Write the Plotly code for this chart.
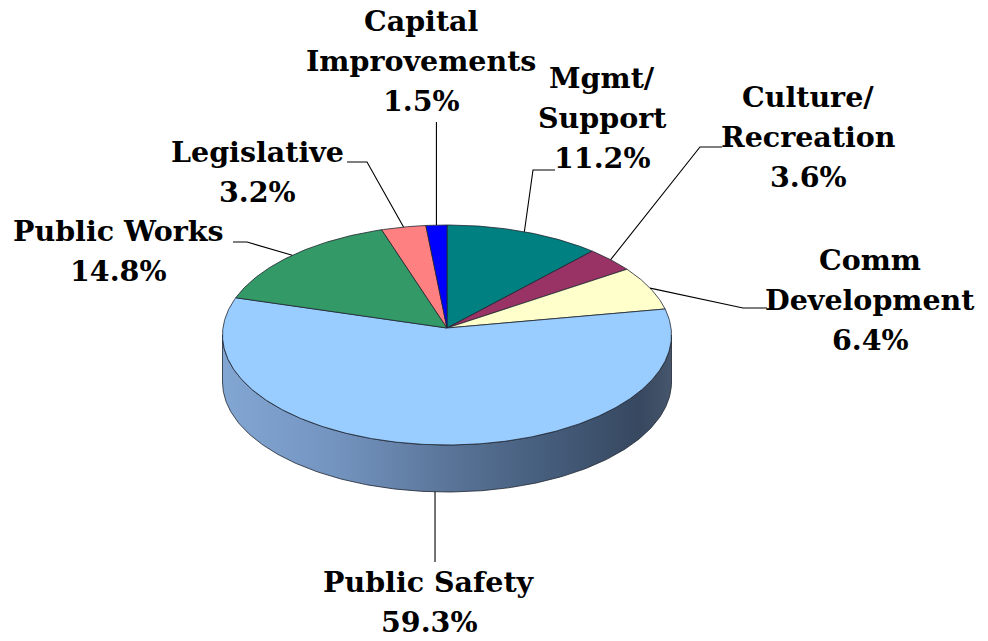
import numpy as np
import plotly.graph_objects as go

# ---- data (clockwise from 12 o'clock) ----
categories = ["Mgmt/<br>Support", "Culture/<br>Recreation", "Comm<br>Development",
              "Public Safety", "Public Works", "Legislative", "Capital<br>Improvements"]
shares = [11.2, 3.6, 6.4, 59.3, 14.8, 3.2, 1.5]
colors = ["#008080", "#993366", "#FFFFCC", "#99CCFF", "#339966", "#FF8080", "#0000FF"]

# ---- geometry / style ----
W, H = 988, 641
cx, cy, a, b = 447.0, 335.0, 224.5, 110.0
apex_dy = -7.0
depth = 47.0
edge = "#1e2430"
FONT = "DejaVu Serif"
FS = 28.5
LINE_SP = 40

# label placement: (center x, first line y), elbow points (None x -> use anchor x)
label_pos = [(602, 78), (808, 97), (870, 260), (429, 582), (118, 231), (257, 152), (421, 21)]
elbows = [[(555, 170), (533, 170)], [(722, 147), (700, 147)], [(767, 308), (743, 308)],
          [(None, 562)], [(233, 242), (247, 242)], [(347, 162), (367, 162)], [(None, 122)]]

def pt(theta_deg):
    t = np.radians(theta_deg)
    return cx + a * np.sin(t), cy - b * np.cos(t)

fig = go.Figure()

total = sum(shares)
bounds = np.concatenate([[0], np.cumsum(shares)]) / total * 360.0

# side walls (front half only: 90..270 deg)
for i, (t1, t2) in enumerate(zip(bounds[:-1], bounds[1:])):
    s1, s2 = max(t1, 90.0), min(t2, 270.0)
    if s2 <= s1:
        continue
    th = np.linspace(s1, s2, 200)
    xs, ys = pt(th)
    px = np.concatenate([xs, xs[::-1], xs[:1]])
    py = np.concatenate([ys, ys[::-1] + depth, ys[:1]])
    fig.add_trace(go.Scatter(
        x=px, y=py, mode="lines", fill="toself",
        line=dict(color=edge, width=0.8),
        fillgradient=dict(type="horizontal",
                          colorscale=[[0, "#82a6d2"], [0.25, "#7494c0"], [0.5, "#5a7599"],
                                      [0.75, "#435a78"], [0.93, "#374860"], [1, "#46566c"]]),
        hoverinfo="skip", showlegend=False))

# top faces
for i, (t1, t2) in enumerate(zip(bounds[:-1], bounds[1:])):
    n = max(int((t2 - t1) * 2), 4)
    th = np.linspace(t1, t2, n)
    xs, ys = pt(th)
    px = np.concatenate([[cx], xs, [cx]])
    py = np.concatenate([[cy + apex_dy], ys, [cy + apex_dy]])
    fig.add_trace(go.Scatter(
        x=px, y=py, mode="lines", fill="toself", fillcolor=colors[i],
        line=dict(color=edge, width=0.8),
        hoverinfo="skip", showlegend=False))

# leader lines and labels
for i, (t1, t2) in enumerate(zip(bounds[:-1], bounds[1:])):
    mid = (t1 + t2) / 2
    ax_, ay_ = pt(mid)
    if 90 < mid < 270:
        ay_ += depth
    lx, ly = [], []
    for ex, ey in elbows[i]:
        lx.append(ax_ if ex is None else ex)
        ly.append(ey)
    lx.append(ax_)
    ly.append(ay_)
    fig.add_trace(go.Scatter(x=lx, y=ly, mode="lines",
                             line=dict(color="#000000", width=1.1),
                             hoverinfo="skip", showlegend=False))
    lines = categories[i].split("<br>") + [f"{shares[i]:.1f}%"]
    x0, y0 = label_pos[i]
    for k, txt in enumerate(lines):
        fig.add_annotation(x=x0, y=y0 + k * LINE_SP, text=f"<b>{txt}</b>",
                           showarrow=False, xanchor="center", yanchor="middle",
                           font=dict(family=FONT, size=FS, color="#000000"))

fig.update_xaxes(range=[0, W], visible=False, fixedrange=True)
fig.update_yaxes(range=[H, 0], visible=False, fixedrange=True)
fig.update_layout(width=W, height=H, margin=dict(l=0, r=0, t=0, b=0),
                  paper_bgcolor="white", plot_bgcolor="white")

fig.write_html("out.html")
